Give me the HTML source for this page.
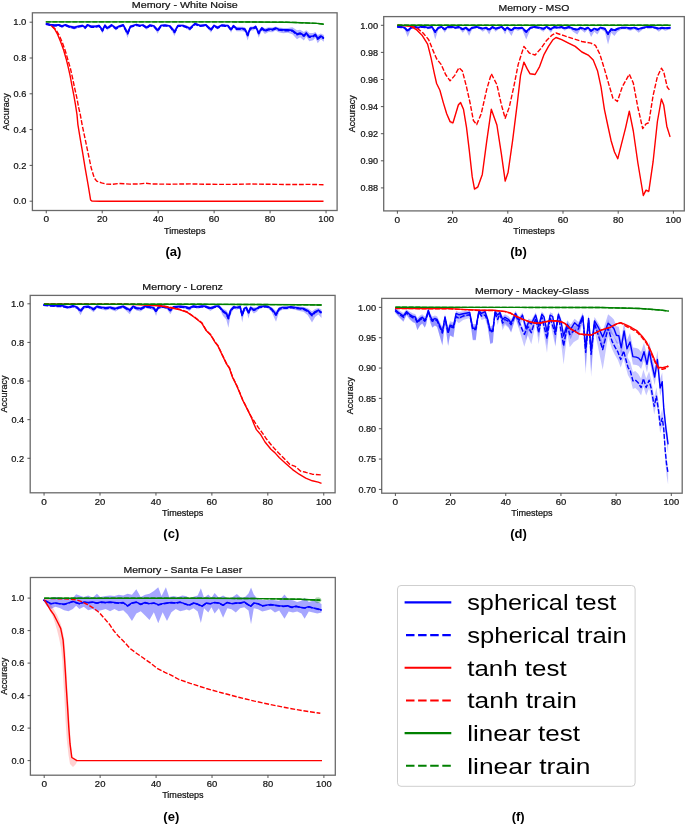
<!DOCTYPE html>
<html><head><meta charset="utf-8"><style>
html,body{margin:0;padding:0;background:#fff;}
body{width:685px;height:824px;overflow:hidden;}
svg{display:block;font-family:"Liberation Sans", sans-serif;will-change:transform;}
text{font-family:"Liberation Sans", sans-serif;}
</style></head><body>
<svg width="685" height="824" viewBox="0 0 685 824">
<rect width="685" height="824" fill="#fff"/>
<defs>
<clipPath id="clipa"><rect x="32.4" y="12.8" width="304.70000000000005" height="197.7"/></clipPath>
<clipPath id="clipb"><rect x="383.7" y="16.6" width="300.59999999999997" height="194.3"/></clipPath>
<clipPath id="clipc"><rect x="30.2" y="295.4" width="304.90000000000003" height="197.40000000000003"/></clipPath>
<clipPath id="clipd"><rect x="381.7" y="298.4" width="300.50000000000006" height="194.8"/></clipPath>
<clipPath id="clipe"><rect x="30.4" y="577.5" width="304.90000000000003" height="197.70000000000005"/></clipPath>
</defs>
<g clip-path="url(#clipa)">
<path d="M45.80,22.80 L50.00,23.80 L54.60,24.35 L59.00,24.12 L61.90,24.95 L65.50,24.12 L69.20,25.25 L74.30,26.00 L79.40,24.95 L82.30,24.57 L85.30,26.00 L87.40,24.12 L91.10,25.25 L95.50,25.25 L99.10,24.57 L102.50,28.18 L105.00,24.35 L107.20,26.53 L111.50,24.12 L115.90,26.53 L119.60,24.95 L123.20,24.12 L127.60,30.35 L130.50,25.25 L133.40,24.57 L136.40,23.80 L140.00,24.57 L143.00,24.20 L146.80,26.07 L150.00,24.20 L154.00,24.95 L157.70,28.18 L161.00,24.57 L165.00,24.20 L170.00,24.95 L174.50,29.30 L178.00,24.57 L183.00,24.57 L186.00,25.32 L189.90,26.75 L195.00,22.80 L200.00,24.57 L206.00,24.12 L211.00,27.65 L214.00,24.57 L217.60,26.00 L222.00,24.20 L225.00,24.50 L228.10,24.73 L231.10,27.65 L233.40,24.73 L236.50,26.82 L239.60,26.82 L242.60,26.82 L244.90,27.20 L247.70,31.70 L250.30,26.45 L253.40,26.45 L255.70,25.32 L258.70,30.20 L261.80,26.45 L264.90,28.32 L268.70,27.20 L272.50,27.43 L275.60,26.45 L278.60,27.43 L283.20,27.88 L287.80,28.06 L292.40,27.26 L297.00,30.33 L300.10,29.78 L303.90,31.90 L306.20,30.18 L309.30,33.00 L313.10,32.88 L315.40,31.90 L317.70,35.05 L320.80,33.38 L323.90,35.08 L323.90,41.78 L320.80,39.24 L317.70,43.23 L315.40,37.70 L313.10,40.14 L309.30,41.31 L306.20,36.60 L303.90,40.49 L300.10,37.31 L297.00,39.13 L292.40,34.30 L287.80,32.86 L283.20,33.18 L278.60,32.31 L275.60,30.43 L272.50,32.31 L268.70,31.88 L264.90,34.05 L261.80,30.43 L258.70,37.68 L255.70,28.25 L253.40,30.43 L250.30,30.43 L247.70,40.58 L244.90,31.88 L242.60,31.16 L239.60,31.16 L236.50,31.16 L233.40,27.09 L231.10,32.75 L228.10,27.09 L225.00,26.66 L222.00,26.08 L217.60,29.56 L214.00,26.80 L211.00,32.75 L206.00,25.93 L200.00,26.80 L195.00,24.40 L189.90,31.01 L186.00,28.25 L183.00,26.80 L178.00,26.80 L174.50,35.94 L170.00,27.53 L165.00,26.08 L161.00,26.80 L157.70,33.77 L154.00,27.53 L150.00,26.08 L146.80,29.70 L143.00,26.08 L140.00,26.80 L136.40,25.40 L133.40,26.80 L130.50,28.11 L127.60,37.97 L123.20,25.93 L119.60,27.53 L115.90,30.58 L111.50,25.93 L107.20,30.58 L105.00,26.37 L102.50,33.77 L99.10,26.80 L95.50,28.11 L91.10,28.11 L87.40,25.93 L85.30,29.56 L82.30,26.80 L79.40,27.53 L74.30,29.56 L69.20,28.11 L65.50,25.93 L61.90,27.53 L59.00,25.93 L54.60,26.37 L50.00,25.40 L45.80,24.40 Z" fill="#0000ff" fill-opacity="0.3" stroke="none"/>
<path d="M45.80,21.90 L150.00,21.90 L230.00,21.90 L286.00,22.20 L301.60,22.70 L317.00,23.40 L323.90,24.20" fill="none" stroke="#008000" stroke-width="1.4" stroke-linejoin="round" stroke-dasharray="4.9,1.75"/>
<path d="M45.80,21.90 L150.00,21.90 L230.00,21.90 L286.00,22.20 L301.60,22.70 L317.00,23.40 L323.90,24.20" fill="none" stroke="#008000" stroke-width="1.4" stroke-linejoin="round"/>
<path d="M46.10,23.30 L50.90,25.30 L54.60,29.00 L57.60,34.40 L60.60,41.70 L63.70,50.20 L66.10,58.70 L68.20,67.20 L70.10,75.70 L71.90,85.40 L73.80,95.20 L75.50,104.90 L77.00,114.60 L77.90,124.60 L80.30,139.20 L82.80,153.70 L85.20,168.30 L88.20,185.30 L90.60,199.90 L91.90,201.10 L100.00,201.20 L323.50,201.20" fill="none" stroke="#ff0000" stroke-width="1.4" stroke-linejoin="round"/>
<path d="M46.10,23.30 L52.10,25.90 L55.80,29.60 L59.40,35.60 L62.50,42.90 L65.50,51.40 L67.90,59.90 L70.40,68.40 L72.60,78.20 L74.60,87.90 L76.80,97.60 L78.60,107.30 L80.30,114.60 L82.10,124.60 L85.20,139.20 L88.20,153.70 L91.30,168.30 L94.30,178.00 L96.70,181.10 L101.60,182.90 L106.40,184.10 L112.50,184.30 L118.60,183.50 L130.00,184.10 L140.00,183.90 L146.00,183.20 L152.00,184.00 L170.00,184.20 L190.00,183.90 L210.00,184.30 L230.00,184.40 L250.00,184.00 L270.00,184.30 L290.00,184.50 L310.00,184.40 L323.50,184.70" fill="none" stroke="#ff0000" stroke-width="1.4" stroke-linejoin="round" stroke-dasharray="4.9,1.75"/>
<path d="M45.80,24.20 L50.00,25.20 L54.60,25.90 L59.00,25.60 L61.90,26.70 L65.50,25.60 L69.20,27.10 L74.30,28.10 L79.40,26.70 L82.30,26.20 L85.30,28.10 L87.40,25.60 L91.10,27.10 L95.50,27.10 L99.10,26.20 L102.50,31.00 L105.00,25.90 L107.20,28.80 L111.50,25.60 L115.90,28.80 L119.60,26.70 L123.20,25.60 L127.60,33.90 L130.50,27.10 L133.40,26.20 L136.40,25.20 L140.00,26.20 L143.00,25.70 L146.80,28.20 L150.00,25.70 L154.00,26.70 L157.70,31.00 L161.00,26.20 L165.00,25.70 L170.00,26.70 L174.50,32.50 L178.00,26.20 L183.00,26.20 L186.00,27.20 L189.90,29.10 L195.00,24.20 L200.00,26.20 L206.00,25.60 L211.00,30.30 L214.00,26.20 L217.60,28.10 L222.00,25.70 L225.00,26.10 L228.10,26.40 L231.10,30.30 L233.40,26.40 L236.50,29.20 L239.60,29.20 L242.60,29.20 L244.90,29.70 L247.70,35.70 L250.30,28.70 L253.40,28.70 L255.70,27.20 L258.70,33.70 L261.80,28.70 L264.90,31.20 L268.70,29.70 L272.50,30.00 L275.60,28.70 L278.60,30.00 L283.20,30.60 L287.80,30.60 L292.40,31.00 L297.00,34.70 L300.10,33.70 L303.90,36.20 L306.20,33.70 L309.30,37.20 L313.10,36.70 L315.40,35.20 L317.70,39.20 L320.80,36.70 L323.90,38.70" fill="none" stroke="#0000ff" stroke-width="1.6" stroke-linejoin="round" stroke-dasharray="4.9,1.75"/>
<path d="M45.80,23.50 L50.00,24.50 L54.60,25.20 L59.00,24.90 L61.90,26.00 L65.50,24.90 L69.20,26.40 L74.30,27.40 L79.40,26.00 L82.30,25.50 L85.30,27.40 L87.40,24.90 L91.10,26.40 L95.50,26.40 L99.10,25.50 L102.50,30.30 L105.00,25.20 L107.20,28.10 L111.50,24.90 L115.90,28.10 L119.60,26.00 L123.20,24.90 L127.60,33.20 L130.50,26.40 L133.40,25.50 L136.40,24.50 L140.00,25.50 L143.00,25.00 L146.80,27.50 L150.00,25.00 L154.00,26.00 L157.70,30.30 L161.00,25.50 L165.00,25.00 L170.00,26.00 L174.50,31.80 L178.00,25.50 L183.00,25.50 L186.00,26.50 L189.90,28.40 L195.00,23.50 L200.00,25.50 L206.00,24.90 L211.00,29.60 L214.00,25.50 L217.60,27.40 L222.00,25.00 L225.00,25.40 L228.10,25.70 L231.10,29.60 L233.40,25.70 L236.50,28.50 L239.60,28.50 L242.60,28.50 L244.90,29.00 L247.70,35.00 L250.30,28.00 L253.40,28.00 L255.70,26.50 L258.70,33.00 L261.80,28.00 L264.90,30.50 L268.70,29.00 L272.50,29.30 L275.60,28.00 L278.60,29.30 L283.20,29.90 L287.80,29.90 L292.40,30.30 L297.00,34.00 L300.10,33.00 L303.90,35.50 L306.20,33.00 L309.30,36.50 L313.10,36.00 L315.40,34.50 L317.70,38.50 L320.80,36.00 L323.90,38.00" fill="none" stroke="#0000ff" stroke-width="1.7" stroke-linejoin="round"/>
</g>
<rect x="32.40" y="12.80" width="304.70" height="197.70" fill="none" stroke="#6a6a6a" stroke-width="1.3"/>
<line x1="46.25" y1="210.50" x2="46.25" y2="213.30" stroke="#444" stroke-width="0.9"/>
<text x="46.25" y="222.20" font-size="9.2" text-anchor="middle" fill="#111" stroke="#111" stroke-width="0.22" textLength="5.60" lengthAdjust="spacingAndGlyphs">0</text>
<line x1="102.21" y1="210.50" x2="102.21" y2="213.30" stroke="#444" stroke-width="0.9"/>
<text x="102.21" y="222.20" font-size="9.2" text-anchor="middle" fill="#111" stroke="#111" stroke-width="0.22" textLength="10.52" lengthAdjust="spacingAndGlyphs">20</text>
<line x1="158.17" y1="210.50" x2="158.17" y2="213.30" stroke="#444" stroke-width="0.9"/>
<text x="158.17" y="222.20" font-size="9.2" text-anchor="middle" fill="#111" stroke="#111" stroke-width="0.22" textLength="10.24" lengthAdjust="spacingAndGlyphs">40</text>
<line x1="214.13" y1="210.50" x2="214.13" y2="213.30" stroke="#444" stroke-width="0.9"/>
<text x="214.13" y="222.20" font-size="9.2" text-anchor="middle" fill="#111" stroke="#111" stroke-width="0.22" textLength="10.52" lengthAdjust="spacingAndGlyphs">60</text>
<line x1="270.09" y1="210.50" x2="270.09" y2="213.30" stroke="#444" stroke-width="0.9"/>
<text x="270.09" y="222.20" font-size="9.2" text-anchor="middle" fill="#111" stroke="#111" stroke-width="0.22" textLength="10.44" lengthAdjust="spacingAndGlyphs">80</text>
<line x1="326.05" y1="210.50" x2="326.05" y2="213.30" stroke="#444" stroke-width="0.9"/>
<text x="326.05" y="222.20" font-size="9.2" text-anchor="middle" fill="#111" stroke="#111" stroke-width="0.22" textLength="15.56" lengthAdjust="spacingAndGlyphs">100</text>
<line x1="29.60" y1="201.20" x2="32.40" y2="201.20" stroke="#444" stroke-width="0.9"/>
<text x="26.30" y="204.49" font-size="9.2" text-anchor="end" fill="#111" stroke="#111" stroke-width="0.22" textLength="12.78" lengthAdjust="spacingAndGlyphs">0.0</text>
<line x1="29.60" y1="165.40" x2="32.40" y2="165.40" stroke="#444" stroke-width="0.9"/>
<text x="26.30" y="168.69" font-size="9.2" text-anchor="end" fill="#111" stroke="#111" stroke-width="0.22" textLength="12.87" lengthAdjust="spacingAndGlyphs">0.2</text>
<line x1="29.60" y1="129.60" x2="32.40" y2="129.60" stroke="#444" stroke-width="0.9"/>
<text x="26.30" y="132.89" font-size="9.2" text-anchor="end" fill="#111" stroke="#111" stroke-width="0.22" textLength="12.68" lengthAdjust="spacingAndGlyphs">0.4</text>
<line x1="29.60" y1="93.80" x2="32.40" y2="93.80" stroke="#444" stroke-width="0.9"/>
<text x="26.30" y="97.09" font-size="9.2" text-anchor="end" fill="#111" stroke="#111" stroke-width="0.22" textLength="12.83" lengthAdjust="spacingAndGlyphs">0.6</text>
<line x1="29.60" y1="58.00" x2="32.40" y2="58.00" stroke="#444" stroke-width="0.9"/>
<text x="26.30" y="61.29" font-size="9.2" text-anchor="end" fill="#111" stroke="#111" stroke-width="0.22" textLength="12.83" lengthAdjust="spacingAndGlyphs">0.8</text>
<line x1="29.60" y1="22.20" x2="32.40" y2="22.20" stroke="#444" stroke-width="0.9"/>
<text x="26.30" y="25.49" font-size="9.2" text-anchor="end" fill="#111" stroke="#111" stroke-width="0.22" textLength="13.15" lengthAdjust="spacingAndGlyphs">1.0</text>
<text x="184.75" y="7.70" font-size="9.9" text-anchor="middle" fill="#111" stroke="#111" stroke-width="0.22" textLength="105.89" lengthAdjust="spacingAndGlyphs">Memory - White Noise</text>
<text x="184.75" y="233.50" font-size="9.0" text-anchor="middle" fill="#111" stroke="#111" stroke-width="0.22" textLength="41.41" lengthAdjust="spacingAndGlyphs">Timesteps</text>
<text x="9.30" y="111.65" font-size="9.0" text-anchor="middle" fill="#111" stroke="#111" stroke-width="0.22" textLength="37.02" lengthAdjust="spacingAndGlyphs" transform="rotate(-90 9.30 111.65)">Accuracy</text>
<text x="173.40" y="256.30" font-size="13.0" text-anchor="middle" fill="#000" font-weight="bold">(a)</text>
<g clip-path="url(#clipb)">
<path d="M397.12,25.94 L401.35,26.36 L404.53,26.87 L407.70,29.41 L410.88,26.87 L415.11,26.36 L418.28,26.87 L421.46,25.94 L424.64,26.36 L427.81,26.87 L432.04,26.36 L435.22,30.25 L438.39,26.87 L441.57,26.36 L444.74,28.05 L447.92,26.36 L452.15,26.36 L455.33,26.87 L458.50,26.36 L462.74,28.05 L465.91,26.87 L469.09,29.07 L472.26,26.87 L476.50,26.36 L479.67,26.87 L482.85,27.72 L486.02,26.87 L489.20,28.56 L492.37,26.36 L495.55,27.72 L498.72,26.87 L501.90,26.36 L505.07,28.56 L507.19,26.87 L511.42,29.07 L514.60,26.87 L517.77,27.38 L522.01,26.87 L526.24,30.25 L530.47,26.87 L534.71,26.36 L539.23,26.87 L543.47,27.72 L546.64,26.36 L550.88,28.05 L554.05,26.36 L558.28,26.87 L561.46,26.36 L564.64,27.38 L568.87,26.36 L573.10,27.72 L577.34,28.56 L580.51,26.87 L584.74,28.05 L587.92,26.87 L591.09,29.41 L594.27,27.72 L597.45,28.56 L600.62,26.87 L604.85,27.72 L608.03,31.94 L611.20,28.05 L614.38,29.07 L617.55,27.72 L621.79,26.87 L626.02,26.87 L630.26,27.38 L634.49,26.87 L638.72,28.05 L642.96,26.87 L647.19,26.36 L651.42,26.36 L655.66,26.87 L658.83,27.72 L662.01,26.87 L665.18,27.38 L670.47,26.87 L670.47,29.32 L665.18,30.84 L662.01,29.32 L658.83,31.85 L655.66,29.32 L651.42,27.86 L647.19,27.86 L642.96,29.32 L638.72,32.87 L634.49,29.32 L630.26,30.84 L626.02,29.32 L621.79,29.32 L617.55,31.85 L614.38,35.90 L611.20,32.87 L608.03,44.51 L604.85,31.85 L600.62,29.32 L597.45,34.38 L594.27,31.85 L591.09,36.91 L587.92,29.32 L584.74,32.87 L580.51,29.32 L577.34,34.38 L573.10,31.85 L568.87,27.86 L564.64,30.84 L561.46,27.86 L558.28,29.32 L554.05,27.86 L550.88,32.87 L546.64,27.86 L543.47,31.85 L539.23,29.32 L534.71,27.86 L530.47,29.32 L526.24,39.45 L522.01,29.32 L517.77,30.84 L514.60,29.32 L511.42,35.90 L507.19,29.32 L505.07,34.38 L501.90,27.86 L498.72,29.32 L495.55,31.85 L492.37,27.86 L489.20,34.38 L486.02,29.32 L482.85,31.85 L479.67,29.32 L476.50,27.86 L472.26,29.32 L469.09,35.90 L465.91,29.32 L462.74,32.87 L458.50,27.86 L455.33,29.32 L452.15,27.86 L447.92,27.86 L444.74,32.87 L441.57,27.86 L438.39,29.32 L435.22,39.45 L432.04,27.86 L427.81,29.32 L424.64,27.86 L421.46,27.44 L418.28,29.32 L415.11,27.86 L410.88,29.32 L407.70,36.91 L404.53,29.32 L401.35,27.86 L397.12,27.44 Z" fill="#0000ff" fill-opacity="0.3" stroke="none"/>
<path d="M397.40,24.80 L404.00,25.00 L410.70,25.60 L416.30,29.00 L422.00,34.60 L427.60,43.60 L431.00,57.10 L434.30,72.80 L436.60,82.90 L439.90,89.60 L443.30,102.00 L446.70,113.20 L450.10,121.00 L453.00,122.20 L455.70,113.20 L458.40,104.20 L460.60,102.00 L463.50,108.70 L466.50,126.70 L469.20,149.10 L472.20,176.10 L474.50,188.40 L477.90,186.20 L482.30,173.80 L486.80,140.10 L491.30,108.70 L496.90,124.40 L501.40,153.60 L505.20,180.50 L508.10,171.60 L512.60,140.10 L517.10,104.20 L520.50,75.00 L523.90,61.50 L527.20,68.30 L530.10,73.20 L535.10,73.90 L539.60,66.00 L544.10,53.70 L548.50,45.80 L553.00,39.10 L556.00,36.90 L561.70,39.10 L568.50,42.50 L575.20,45.80 L581.90,51.40 L588.70,54.80 L593.20,59.30 L597.60,70.50 L601.00,86.20 L604.40,108.70 L607.70,124.40 L611.10,140.10 L614.50,151.40 L617.80,158.10 L621.20,144.60 L625.70,126.70 L629.30,110.60 L633.30,130.40 L637.80,161.90 L643.30,194.90 L646.00,189.50 L648.80,190.70 L653.10,161.10 L657.40,120.90 L661.40,98.40 L663.70,104.30 L666.80,125.60 L670.10,136.30 L670.10,138.50 L666.80,127.80 L663.70,106.50 L661.40,99.60 L657.40,123.10 L653.10,163.30 L648.80,192.90 L646.00,191.70 L643.30,197.10 L637.80,164.10 L633.30,132.60 L629.30,112.80 L625.70,128.90 L621.20,146.80 L617.80,160.30 L614.50,153.60 L611.10,142.30 L607.70,126.60 L604.40,110.90 L601.00,87.40 L597.60,71.70 L593.20,60.50 L588.70,56.00 L581.90,52.60 L575.20,47.00 L568.50,43.70 L561.70,40.30 L556.00,38.10 L553.00,40.30 L548.50,47.00 L544.10,54.90 L539.60,67.20 L535.10,75.10 L530.10,74.40 L527.20,69.50 L523.90,62.70 L520.50,76.20 L517.10,106.40 L512.60,142.30 L508.10,173.80 L505.20,182.70 L501.40,155.80 L496.90,126.60 L491.30,110.90 L486.80,142.30 L482.30,176.00 L477.90,188.40 L474.50,190.60 L472.20,178.30 L469.20,151.30 L466.50,128.90 L463.50,110.90 L460.60,104.20 L458.40,106.40 L455.70,115.40 L453.00,124.40 L450.10,123.20 L446.70,115.40 L443.30,104.20 L439.90,90.80 L436.60,84.10 L434.30,74.00 L431.00,58.30 L427.60,44.80 L422.00,35.80 L416.30,30.20 L410.70,26.80 L404.00,26.20 L397.40,26.00 Z" fill="#ff0000" fill-opacity="0.22" stroke="none"/>
<path d="M397.12,26.94 L401.35,27.36 L404.53,27.99 L407.70,31.16 L410.88,27.99 L415.11,27.36 L418.28,27.99 L421.46,26.94 L424.64,27.36 L427.81,27.99 L432.04,27.36 L435.22,32.21 L438.39,27.99 L441.57,27.36 L444.74,29.47 L447.92,27.36 L452.15,27.36 L455.33,27.99 L458.50,27.36 L462.74,29.47 L465.91,27.99 L469.09,30.73 L472.26,27.99 L476.50,27.36 L479.67,27.99 L482.85,29.05 L486.02,27.99 L489.20,30.10 L492.37,27.36 L495.55,29.05 L498.72,27.99 L501.90,27.36 L505.07,30.10 L507.19,27.99 L511.42,30.73 L514.60,27.99 L517.77,28.62 L522.01,27.99 L526.24,32.21 L530.47,27.99 L534.71,27.36 L539.23,27.99 L543.47,29.05 L546.64,27.36 L550.88,29.47 L554.05,27.36 L558.28,27.99 L561.46,27.36 L564.64,28.62 L568.87,27.36 L573.10,29.05 L577.34,30.10 L580.51,27.99 L584.74,29.47 L587.92,27.99 L591.09,31.16 L594.27,29.05 L597.45,30.10 L600.62,27.99 L604.85,29.05 L608.03,34.32 L611.20,29.47 L614.38,30.73 L617.55,29.05 L621.79,27.99 L626.02,27.99 L630.26,28.62 L634.49,27.99 L638.72,29.47 L642.96,27.99 L647.19,27.36 L651.42,27.36 L655.66,27.99 L658.83,29.05 L662.01,27.99 L665.18,28.62 L670.47,27.99" fill="none" stroke="#0000ff" stroke-width="1.6" stroke-linejoin="round" stroke-dasharray="4.9,1.75"/>
<path d="M397.12,26.44 L401.35,26.86 L404.53,27.49 L407.70,30.66 L410.88,27.49 L415.11,26.86 L418.28,27.49 L421.46,26.44 L424.64,26.86 L427.81,27.49 L432.04,26.86 L435.22,31.71 L438.39,27.49 L441.57,26.86 L444.74,28.97 L447.92,26.86 L452.15,26.86 L455.33,27.49 L458.50,26.86 L462.74,28.97 L465.91,27.49 L469.09,30.23 L472.26,27.49 L476.50,26.86 L479.67,27.49 L482.85,28.55 L486.02,27.49 L489.20,29.60 L492.37,26.86 L495.55,28.55 L498.72,27.49 L501.90,26.86 L505.07,29.60 L507.19,27.49 L511.42,30.23 L514.60,27.49 L517.77,28.12 L522.01,27.49 L526.24,31.71 L530.47,27.49 L534.71,26.86 L539.23,27.49 L543.47,28.55 L546.64,26.86 L550.88,28.97 L554.05,26.86 L558.28,27.49 L561.46,26.86 L564.64,28.12 L568.87,26.86 L573.10,28.55 L577.34,29.60 L580.51,27.49 L584.74,28.97 L587.92,27.49 L591.09,30.66 L594.27,28.55 L597.45,29.60 L600.62,27.49 L604.85,28.55 L608.03,33.82 L611.20,28.97 L614.38,30.23 L617.55,28.55 L621.79,27.49 L626.02,27.49 L630.26,28.12 L634.49,27.49 L638.72,28.97 L642.96,27.49 L647.19,26.86 L651.42,26.86 L655.66,27.49 L658.83,28.55 L662.01,27.49 L665.18,28.12 L670.47,27.49" fill="none" stroke="#0000ff" stroke-width="1.7" stroke-linejoin="round"/>
<path d="M397.40,25.40 L404.00,25.60 L410.70,26.20 L416.30,29.60 L422.00,35.20 L427.60,44.20 L431.00,57.70 L434.30,73.40 L436.60,83.50 L439.90,90.20 L443.30,102.60 L446.70,113.80 L450.10,121.60 L453.00,122.80 L455.70,113.80 L458.40,104.80 L460.60,102.60 L463.50,109.30 L466.50,127.30 L469.20,149.70 L472.20,176.70 L474.50,189.00 L477.90,186.80 L482.30,174.40 L486.80,140.70 L491.30,109.30 L496.90,125.00 L501.40,154.20 L505.20,181.10 L508.10,172.20 L512.60,140.70 L517.10,104.80 L520.50,75.60 L523.90,62.10 L527.20,68.90 L530.10,73.80 L535.10,74.50 L539.60,66.60 L544.10,54.30 L548.50,46.40 L553.00,39.70 L556.00,37.50 L561.70,39.70 L568.50,43.10 L575.20,46.40 L581.90,52.00 L588.70,55.40 L593.20,59.90 L597.60,71.10 L601.00,86.80 L604.40,109.30 L607.70,125.00 L611.10,140.70 L614.50,152.00 L617.80,158.70 L621.20,145.20 L625.70,127.30 L629.30,111.20 L633.30,131.00 L637.80,162.50 L643.30,195.50 L646.00,190.10 L648.80,191.30 L653.10,161.70 L657.40,121.50 L661.40,99.00 L663.70,104.90 L666.80,126.20 L670.10,136.90" fill="none" stroke="#ff0000" stroke-width="1.4" stroke-linejoin="round"/>
<path d="M397.40,25.30 L404.00,25.40 L410.70,25.80 L417.50,28.50 L423.10,33.00 L428.70,39.70 L433.20,50.90 L436.60,58.80 L441.10,64.40 L445.60,74.50 L450.10,80.80 L454.60,75.60 L459.00,67.80 L462.40,71.10 L466.50,86.80 L470.20,103.50 L473.40,120.50 L476.70,124.60 L481.20,113.80 L486.80,89.10 L491.30,73.80 L496.90,84.60 L501.40,104.80 L505.20,118.30 L509.30,107.10 L513.80,86.80 L518.20,64.40 L523.90,46.40 L529.50,53.20 L535.10,55.00 L540.70,48.70 L546.30,40.80 L551.90,35.20 L556.00,33.00 L564.00,35.70 L573.00,38.60 L581.90,41.50 L590.90,43.10 L595.40,45.30 L599.90,54.30 L604.40,68.90 L608.90,84.60 L612.90,98.10 L617.40,101.40 L622.30,86.80 L629.30,74.20 L633.30,83.00 L637.80,107.00 L642.70,128.60 L646.00,123.90 L648.80,122.70 L653.10,95.50 L657.40,76.50 L661.40,68.20 L663.70,71.80 L667.30,87.20 L670.10,90.70" fill="none" stroke="#ff0000" stroke-width="1.4" stroke-linejoin="round" stroke-dasharray="4.9,1.75"/>
<path d="M397.40,25.20 L670.50,25.20" fill="none" stroke="#008000" stroke-width="1.4" stroke-linejoin="round" stroke-dasharray="4.9,1.75"/>
<path d="M397.40,25.20 L670.50,25.20" fill="none" stroke="#008000" stroke-width="1.4" stroke-linejoin="round"/>
</g>
<rect x="383.70" y="16.60" width="300.60" height="194.30" fill="none" stroke="#6a6a6a" stroke-width="1.3"/>
<line x1="397.40" y1="210.90" x2="397.40" y2="213.70" stroke="#444" stroke-width="0.9"/>
<text x="397.40" y="222.60" font-size="9.2" text-anchor="middle" fill="#111" stroke="#111" stroke-width="0.22" textLength="5.60" lengthAdjust="spacingAndGlyphs">0</text>
<line x1="452.60" y1="210.90" x2="452.60" y2="213.70" stroke="#444" stroke-width="0.9"/>
<text x="452.60" y="222.60" font-size="9.2" text-anchor="middle" fill="#111" stroke="#111" stroke-width="0.22" textLength="10.52" lengthAdjust="spacingAndGlyphs">20</text>
<line x1="507.80" y1="210.90" x2="507.80" y2="213.70" stroke="#444" stroke-width="0.9"/>
<text x="507.80" y="222.60" font-size="9.2" text-anchor="middle" fill="#111" stroke="#111" stroke-width="0.22" textLength="10.24" lengthAdjust="spacingAndGlyphs">40</text>
<line x1="563.00" y1="210.90" x2="563.00" y2="213.70" stroke="#444" stroke-width="0.9"/>
<text x="563.00" y="222.60" font-size="9.2" text-anchor="middle" fill="#111" stroke="#111" stroke-width="0.22" textLength="10.52" lengthAdjust="spacingAndGlyphs">60</text>
<line x1="618.20" y1="210.90" x2="618.20" y2="213.70" stroke="#444" stroke-width="0.9"/>
<text x="618.20" y="222.60" font-size="9.2" text-anchor="middle" fill="#111" stroke="#111" stroke-width="0.22" textLength="10.44" lengthAdjust="spacingAndGlyphs">80</text>
<line x1="673.40" y1="210.90" x2="673.40" y2="213.70" stroke="#444" stroke-width="0.9"/>
<text x="673.40" y="222.60" font-size="9.2" text-anchor="middle" fill="#111" stroke="#111" stroke-width="0.22" textLength="15.56" lengthAdjust="spacingAndGlyphs">100</text>
<line x1="380.90" y1="187.90" x2="383.70" y2="187.90" stroke="#444" stroke-width="0.9"/>
<text x="378.10" y="191.19" font-size="9.2" text-anchor="end" fill="#111" stroke="#111" stroke-width="0.22" textLength="17.66" lengthAdjust="spacingAndGlyphs">0.88</text>
<line x1="380.90" y1="160.80" x2="383.70" y2="160.80" stroke="#444" stroke-width="0.9"/>
<text x="378.10" y="164.09" font-size="9.2" text-anchor="end" fill="#111" stroke="#111" stroke-width="0.22" textLength="17.61" lengthAdjust="spacingAndGlyphs">0.90</text>
<line x1="380.90" y1="133.70" x2="383.70" y2="133.70" stroke="#444" stroke-width="0.9"/>
<text x="378.10" y="136.99" font-size="9.2" text-anchor="end" fill="#111" stroke="#111" stroke-width="0.22" textLength="17.71" lengthAdjust="spacingAndGlyphs">0.92</text>
<line x1="380.90" y1="106.60" x2="383.70" y2="106.60" stroke="#444" stroke-width="0.9"/>
<text x="378.10" y="109.89" font-size="9.2" text-anchor="end" fill="#111" stroke="#111" stroke-width="0.22" textLength="17.52" lengthAdjust="spacingAndGlyphs">0.94</text>
<line x1="380.90" y1="79.50" x2="383.70" y2="79.50" stroke="#444" stroke-width="0.9"/>
<text x="378.10" y="82.79" font-size="9.2" text-anchor="end" fill="#111" stroke="#111" stroke-width="0.22" textLength="17.66" lengthAdjust="spacingAndGlyphs">0.96</text>
<line x1="380.90" y1="52.40" x2="383.70" y2="52.40" stroke="#444" stroke-width="0.9"/>
<text x="378.10" y="55.69" font-size="9.2" text-anchor="end" fill="#111" stroke="#111" stroke-width="0.22" textLength="17.66" lengthAdjust="spacingAndGlyphs">0.98</text>
<line x1="380.90" y1="25.30" x2="383.70" y2="25.30" stroke="#444" stroke-width="0.9"/>
<text x="378.10" y="28.59" font-size="9.2" text-anchor="end" fill="#111" stroke="#111" stroke-width="0.22" textLength="17.97" lengthAdjust="spacingAndGlyphs">1.00</text>
<text x="534.00" y="10.80" font-size="9.9" text-anchor="middle" fill="#111" stroke="#111" stroke-width="0.22" textLength="70.80" lengthAdjust="spacingAndGlyphs">Memory - MSO</text>
<text x="534.00" y="233.90" font-size="9.0" text-anchor="middle" fill="#111" stroke="#111" stroke-width="0.22" textLength="41.41" lengthAdjust="spacingAndGlyphs">Timesteps</text>
<text x="355.40" y="113.75" font-size="9.0" text-anchor="middle" fill="#111" stroke="#111" stroke-width="0.22" textLength="37.02" lengthAdjust="spacingAndGlyphs" transform="rotate(-90 355.40 113.75)">Accuracy</text>
<text x="518.50" y="256.10" font-size="13.0" text-anchor="middle" fill="#000" font-weight="bold">(b)</text>
<g clip-path="url(#clipc)">
<path d="M43.28,303.69 L48.76,304.12 L55.33,304.78 L61.90,304.78 L68.47,305.95 L72.85,304.78 L77.23,305.95 L80.51,308.41 L83.80,305.65 L88.18,305.34 L93.65,307.18 L96.93,305.34 L101.31,305.95 L105.69,306.41 L110.07,305.95 L115.55,306.88 L118.83,305.95 L123.21,305.34 L129.78,307.95 L133.07,305.34 L136.35,306.41 L140.73,306.88 L145.11,305.34 L149.49,305.65 L153.87,306.41 L156.06,308.72 L158.25,305.95 L162.63,305.34 L167.01,305.95 L170.29,307.95 L173.58,305.65 L180.15,305.34 L185.62,305.65 L189.23,306.59 L193.47,305.11 L197.70,305.70 L201.93,305.11 L206.17,305.41 L210.40,306.59 L214.64,305.41 L218.87,305.11 L223.10,308.65 L226.28,310.13 L228.39,313.53 L230.51,308.36 L233.69,305.70 L236.86,306.14 L240.04,305.41 L242.15,311.31 L244.27,306.88 L246.39,306.14 L248.50,309.84 L250.62,306.14 L253.80,307.62 L256.97,306.88 L259.09,305.70 L262.26,305.41 L265.44,305.11 L268.61,305.70 L271.79,307.18 L276.02,311.02 L279.20,306.88 L282.37,306.14 L286.61,306.14 L290.84,305.70 L295.07,306.14 L299.31,306.59 L303.54,306.88 L307.77,308.36 L312.01,311.31 L315.18,309.10 L318.36,308.06 L321.53,309.54 L321.53,318.08 L318.36,314.50 L315.18,317.01 L312.01,322.39 L307.77,315.22 L303.54,311.63 L299.31,310.91 L295.07,309.84 L290.84,308.76 L286.61,309.84 L282.37,309.84 L279.20,311.63 L276.02,321.67 L271.79,312.35 L268.61,308.76 L265.44,307.33 L262.26,308.04 L259.09,308.76 L256.97,311.63 L253.80,313.42 L250.62,309.84 L248.50,318.80 L246.39,309.84 L244.27,311.63 L242.15,322.39 L240.04,308.04 L236.86,309.84 L233.69,308.76 L230.51,315.22 L228.39,327.77 L226.28,319.52 L223.10,315.93 L218.87,307.33 L214.64,308.04 L210.40,310.91 L206.17,308.04 L201.93,307.33 L197.70,308.76 L193.47,307.33 L189.23,310.91 L185.62,308.63 L180.15,307.88 L173.58,308.63 L170.29,314.22 L167.01,309.37 L162.63,307.88 L158.25,309.37 L156.06,316.09 L153.87,310.49 L149.49,308.63 L145.11,307.88 L140.73,311.61 L136.35,310.49 L133.07,307.88 L129.78,314.22 L123.21,307.88 L118.83,309.37 L115.55,311.61 L110.07,309.37 L105.69,310.49 L101.31,309.37 L96.93,307.88 L93.65,312.36 L88.18,307.88 L83.80,308.63 L80.51,315.34 L77.23,309.37 L72.85,306.98 L68.47,309.37 L61.90,306.98 L55.33,306.98 L48.76,306.32 L43.28,305.89 Z" fill="#0000ff" fill-opacity="0.3" stroke="none"/>
<path d="M43.28,305.29 L48.76,305.72 L55.33,306.38 L61.90,306.38 L68.47,307.92 L72.85,306.38 L77.23,307.92 L80.51,311.43 L83.80,307.48 L88.18,307.04 L93.65,309.68 L96.93,307.04 L101.31,307.92 L105.69,308.58 L110.07,307.92 L115.55,309.24 L118.83,307.92 L123.21,307.04 L129.78,310.77 L133.07,307.04 L136.35,308.58 L140.73,309.24 L145.11,307.04 L149.49,307.48 L153.87,308.58 L156.06,311.87 L158.25,307.92 L162.63,307.04 L167.01,307.92 L170.29,310.77 L173.58,307.48 L180.15,307.04 L185.62,307.48 L189.23,308.82 L193.47,306.72 L197.70,307.56 L201.93,306.72 L206.17,307.14 L210.40,308.82 L214.64,307.14 L218.87,306.72 L223.10,311.78 L226.28,313.89 L228.39,318.74 L230.51,311.36 L233.69,307.56 L236.86,308.19 L240.04,307.14 L242.15,315.57 L244.27,309.25 L246.39,308.19 L248.50,313.47 L250.62,308.19 L253.80,310.30 L256.97,309.25 L259.09,307.56 L262.26,307.14 L265.44,306.72 L268.61,307.56 L271.79,309.67 L276.02,315.15 L279.20,309.25 L282.37,308.19 L286.61,308.19 L290.84,307.56 L295.07,308.19 L299.31,308.82 L303.54,309.25 L307.77,311.36 L312.01,315.57 L315.18,312.41 L318.36,310.93 L321.53,313.04" fill="none" stroke="#0000ff" stroke-width="1.6" stroke-linejoin="round" stroke-dasharray="4.9,1.75"/>
<path d="M43.28,304.59 L48.76,305.02 L55.33,305.68 L61.90,305.68 L68.47,307.22 L72.85,305.68 L77.23,307.22 L80.51,310.73 L83.80,306.78 L88.18,306.34 L93.65,308.98 L96.93,306.34 L101.31,307.22 L105.69,307.88 L110.07,307.22 L115.55,308.54 L118.83,307.22 L123.21,306.34 L129.78,310.07 L133.07,306.34 L136.35,307.88 L140.73,308.54 L145.11,306.34 L149.49,306.78 L153.87,307.88 L156.06,311.17 L158.25,307.22 L162.63,306.34 L167.01,307.22 L170.29,310.07 L173.58,306.78 L180.15,306.34 L185.62,306.78 L189.23,308.12 L193.47,306.02 L197.70,306.86 L201.93,306.02 L206.17,306.44 L210.40,308.12 L214.64,306.44 L218.87,306.02 L223.10,311.08 L226.28,313.19 L228.39,318.04 L230.51,310.66 L233.69,306.86 L236.86,307.49 L240.04,306.44 L242.15,314.88 L244.27,308.55 L246.39,307.49 L248.50,312.77 L250.62,307.49 L253.80,309.60 L256.97,308.55 L259.09,306.86 L262.26,306.44 L265.44,306.02 L268.61,306.86 L271.79,308.97 L276.02,314.45 L279.20,308.55 L282.37,307.49 L286.61,307.49 L290.84,306.86 L295.07,307.49 L299.31,308.12 L303.54,308.55 L307.77,310.66 L312.01,314.88 L315.18,311.71 L318.36,310.23 L321.53,312.34" fill="none" stroke="#0000ff" stroke-width="1.7" stroke-linejoin="round"/>
<path d="M44.00,304.30 L80.00,304.30 L120.00,304.40 L135.00,304.60 L150.90,305.30 L162.60,306.20 L174.20,308.50 L180.00,309.80 L187.30,312.40 L194.60,317.50 L201.90,323.30 L206.20,330.60 L210.60,335.00 L215.00,342.20 L217.90,345.90 L222.30,355.30 L226.60,364.10 L229.50,368.40 L232.50,377.20 L236.80,385.90 L240.00,393.50 L242.60,400.00 L246.60,407.90 L251.20,417.10 L253.80,423.70 L256.40,429.60 L260.40,434.20 L265.00,442.00 L270.90,449.30 L274.80,452.60 L279.40,457.80 L286.00,463.70 L292.60,469.60 L299.10,474.20 L305.70,478.20 L312.30,480.80 L318.20,482.10 L321.50,483.40" fill="none" stroke="#ff0000" stroke-width="1.4" stroke-linejoin="round"/>
<path d="M44.00,303.90 L80.00,303.90 L120.00,304.00 L135.00,304.20 L150.90,304.90 L162.60,305.80 L174.20,308.10 L180.00,309.40 L187.30,312.00 L194.60,317.10 L201.90,322.90 L206.20,330.20 L210.60,334.60 L215.00,341.80 L217.90,345.50 L222.30,354.90 L226.60,363.70 L229.50,368.00 L232.50,376.80 L236.80,385.50 L240.00,393.10 L242.60,399.60 L246.60,407.50 L251.20,416.70 L258.40,427.60 L262.30,432.80 L266.30,438.80 L271.50,445.30 L276.80,451.20 L283.40,457.80 L289.90,464.40 L295.20,466.40 L300.40,471.00 L305.70,472.30 L312.30,474.20 L320.80,474.90" fill="none" stroke="#ff0000" stroke-width="1.4" stroke-linejoin="round" stroke-dasharray="4.9,1.75"/>
<path d="M44.00,304.20 L200.00,304.30 L300.00,304.70 L321.70,305.00" fill="none" stroke="#008000" stroke-width="1.4" stroke-linejoin="round" stroke-dasharray="4.9,1.75"/>
<path d="M44.00,304.20 L200.00,304.30 L300.00,304.70 L321.70,305.00" fill="none" stroke="#008000" stroke-width="1.4" stroke-linejoin="round"/>
</g>
<rect x="30.20" y="295.40" width="304.90" height="197.40" fill="none" stroke="#6a6a6a" stroke-width="1.3"/>
<line x1="44.06" y1="492.80" x2="44.06" y2="495.60" stroke="#444" stroke-width="0.9"/>
<text x="44.06" y="504.50" font-size="9.2" text-anchor="middle" fill="#111" stroke="#111" stroke-width="0.22" textLength="5.60" lengthAdjust="spacingAndGlyphs">0</text>
<line x1="100.00" y1="492.80" x2="100.00" y2="495.60" stroke="#444" stroke-width="0.9"/>
<text x="100.00" y="504.50" font-size="9.2" text-anchor="middle" fill="#111" stroke="#111" stroke-width="0.22" textLength="10.52" lengthAdjust="spacingAndGlyphs">20</text>
<line x1="155.94" y1="492.80" x2="155.94" y2="495.60" stroke="#444" stroke-width="0.9"/>
<text x="155.94" y="504.50" font-size="9.2" text-anchor="middle" fill="#111" stroke="#111" stroke-width="0.22" textLength="10.24" lengthAdjust="spacingAndGlyphs">40</text>
<line x1="211.88" y1="492.80" x2="211.88" y2="495.60" stroke="#444" stroke-width="0.9"/>
<text x="211.88" y="504.50" font-size="9.2" text-anchor="middle" fill="#111" stroke="#111" stroke-width="0.22" textLength="10.52" lengthAdjust="spacingAndGlyphs">60</text>
<line x1="267.82" y1="492.80" x2="267.82" y2="495.60" stroke="#444" stroke-width="0.9"/>
<text x="267.82" y="504.50" font-size="9.2" text-anchor="middle" fill="#111" stroke="#111" stroke-width="0.22" textLength="10.44" lengthAdjust="spacingAndGlyphs">80</text>
<line x1="323.76" y1="492.80" x2="323.76" y2="495.60" stroke="#444" stroke-width="0.9"/>
<text x="323.76" y="504.50" font-size="9.2" text-anchor="middle" fill="#111" stroke="#111" stroke-width="0.22" textLength="15.56" lengthAdjust="spacingAndGlyphs">100</text>
<line x1="27.40" y1="458.28" x2="30.20" y2="458.28" stroke="#444" stroke-width="0.9"/>
<text x="24.10" y="461.57" font-size="9.2" text-anchor="end" fill="#111" stroke="#111" stroke-width="0.22" textLength="12.87" lengthAdjust="spacingAndGlyphs">0.2</text>
<line x1="27.40" y1="419.66" x2="30.20" y2="419.66" stroke="#444" stroke-width="0.9"/>
<text x="24.10" y="422.95" font-size="9.2" text-anchor="end" fill="#111" stroke="#111" stroke-width="0.22" textLength="12.68" lengthAdjust="spacingAndGlyphs">0.4</text>
<line x1="27.40" y1="381.04" x2="30.20" y2="381.04" stroke="#444" stroke-width="0.9"/>
<text x="24.10" y="384.33" font-size="9.2" text-anchor="end" fill="#111" stroke="#111" stroke-width="0.22" textLength="12.83" lengthAdjust="spacingAndGlyphs">0.6</text>
<line x1="27.40" y1="342.42" x2="30.20" y2="342.42" stroke="#444" stroke-width="0.9"/>
<text x="24.10" y="345.71" font-size="9.2" text-anchor="end" fill="#111" stroke="#111" stroke-width="0.22" textLength="12.83" lengthAdjust="spacingAndGlyphs">0.8</text>
<line x1="27.40" y1="303.80" x2="30.20" y2="303.80" stroke="#444" stroke-width="0.9"/>
<text x="24.10" y="307.09" font-size="9.2" text-anchor="end" fill="#111" stroke="#111" stroke-width="0.22" textLength="13.15" lengthAdjust="spacingAndGlyphs">1.0</text>
<text x="182.65" y="289.80" font-size="9.9" text-anchor="middle" fill="#111" stroke="#111" stroke-width="0.22" textLength="80.59" lengthAdjust="spacingAndGlyphs">Memory - Lorenz</text>
<text x="182.65" y="515.80" font-size="9.0" text-anchor="middle" fill="#111" stroke="#111" stroke-width="0.22" textLength="41.41" lengthAdjust="spacingAndGlyphs">Timesteps</text>
<text x="7.10" y="394.10" font-size="9.0" text-anchor="middle" fill="#111" stroke="#111" stroke-width="0.22" textLength="37.02" lengthAdjust="spacingAndGlyphs" transform="rotate(-90 7.10 394.10)">Accuracy</text>
<text x="171.30" y="538.20" font-size="13.0" text-anchor="middle" fill="#000" font-weight="bold">(c)</text>
<g clip-path="url(#clipd)">
<path d="M395.10,307.10 L399.00,310.37 L403.40,313.10 L406.50,309.23 L409.50,311.60 L413.00,313.54 L415.20,313.89 L417.40,318.12 L420.00,315.39 L422.20,314.24 L424.80,316.62 L426.20,314.68 L428.30,308.00 L430.50,313.89 L432.30,316.62 L434.90,315.39 L437.10,316.18 L439.70,321.55 L442.40,327.00 L445.00,313.89 L448.10,327.36 L450.00,321.20 L453.50,322.34 L456.10,310.81 L458.80,311.96 L463.10,311.16 L469.70,310.02 L472.80,323.92 L475.80,323.92 L478.90,308.50 L481.50,310.81 L485.00,309.23 L487.70,316.18 L490.30,326.21 L492.90,325.42 L495.10,309.23 L497.70,312.31 L499.90,310.02 L502.60,316.18 L505.00,314.24 L508.50,316.18 L511.10,319.26 L515.50,310.81 L519.00,316.97 L522.50,312.31 L526.00,323.92 L528.60,318.56 L531.30,320.05 L535.70,312.31 L538.70,322.34 L541.80,311.60 L544.00,313.89 L547.00,327.00 L550.10,312.31 L552.70,313.54 L555.40,327.00 L558.40,311.60 L561.10,318.10 L563.60,330.70 L567.30,320.17 L570.70,324.49 L574.60,318.82 L578.40,321.88 L582.80,312.50 L585.70,341.95 L588.60,314.86 L591.10,343.75 L594.50,317.11 L598.80,323.68 L602.70,331.51 L608.10,314.30 L612.00,317.50 L613.90,319.40 L616.40,326.20 L618.80,326.70 L621.20,338.90 L624.10,321.90 L627.00,339.80 L630.00,333.00 L632.90,347.60 L636.30,348.10 L638.70,349.10 L641.10,352.00 L644.00,342.70 L647.00,355.40 L649.40,341.80 L651.30,352.50 L654.70,368.00 L657.40,350.50 L660.10,379.00 L662.20,372.60 L663.70,398.90 L665.90,421.30 L668.10,437.30 L668.10,453.30 L665.90,437.30 L663.70,415.90 L662.20,389.60 L660.10,396.00 L657.40,367.50 L654.70,385.00 L651.30,369.50 L649.40,358.80 L647.00,372.40 L644.00,359.70 L641.10,369.00 L638.70,366.10 L636.30,365.10 L632.90,364.60 L630.00,350.00 L627.00,356.80 L624.10,338.90 L621.20,355.90 L618.80,343.70 L616.40,343.20 L613.90,336.40 L612.00,334.50 L608.10,331.30 L602.70,350.85 L598.80,337.80 L594.50,326.85 L591.10,371.25 L588.60,323.10 L585.70,368.25 L582.80,320.50 L578.40,334.80 L574.60,329.70 L570.70,339.15 L567.30,331.95 L563.60,349.50 L561.10,328.50 L558.40,318.62 L555.40,345.74 L552.70,322.02 L550.10,319.86 L547.00,345.74 L544.00,322.64 L541.80,318.62 L538.70,337.52 L535.70,319.86 L531.30,333.49 L528.60,330.86 L526.00,340.31 L522.50,319.86 L519.00,328.07 L515.50,317.22 L511.10,332.10 L508.50,326.68 L505.00,323.27 L502.60,326.68 L499.90,315.82 L497.70,319.86 L495.10,314.43 L492.90,342.95 L490.30,344.34 L487.70,326.68 L485.00,314.43 L481.50,317.22 L478.90,313.30 L475.80,340.31 L472.80,340.31 L469.70,315.82 L463.10,317.84 L458.80,319.23 L456.10,317.22 L453.50,337.52 L450.00,335.51 L448.10,346.36 L445.00,322.64 L442.40,345.74 L439.70,336.13 L437.10,326.68 L434.90,325.28 L432.30,327.45 L430.50,322.64 L428.30,312.80 L426.20,324.04 L424.80,327.45 L422.20,323.27 L420.00,325.28 L417.40,330.08 L415.20,322.64 L413.00,322.02 L409.50,318.62 L406.50,314.43 L403.40,321.25 L399.00,316.44 L395.10,311.90 Z" fill="#0000ff" fill-opacity="0.25" stroke="none"/>
<path d="M395.10,308.70 L399.00,311.98 L403.40,314.77 L406.50,310.81 L409.50,313.24 L413.00,315.22 L415.20,315.58 L417.40,319.90 L420.00,317.11 L422.20,315.94 L424.80,318.37 L426.20,316.39 L428.30,309.60 L430.50,315.58 L432.30,318.37 L434.90,317.11 L437.10,317.92 L439.70,323.41 L442.40,328.99 L445.00,315.58 L448.10,329.35 L450.00,323.05 L453.50,324.22 L456.10,314.05 L458.80,315.58 L463.10,313.60 L469.70,312.43 L472.80,325.84 L475.80,325.84 L478.90,310.09 L481.50,313.60 L485.00,312.79 L487.70,317.92 L490.30,328.18 L492.90,327.37 L495.10,310.81 L497.70,316.75 L499.90,311.62 L502.60,319.90 L505.00,316.75 L508.50,318.37 L511.10,321.52 L515.50,312.79 L519.00,319.18 L524.30,330.16 L527.80,323.05 L531.30,328.63 L535.70,315.94 L538.70,328.63 L541.80,314.41 L547.00,334.12 L550.10,315.22 L555.40,330.16 L558.40,313.60 L563.60,339.70 L567.30,320.98 L569.70,329.35 L573.60,326.29 L578.40,324.49 L582.80,314.00 L585.70,345.46 L588.60,316.66 L591.10,347.26 L594.50,319.27 L598.80,331.51 L602.70,342.85 L608.10,319.20 L612.00,332.10 L614.90,337.90 L617.80,342.70 L620.70,350.50 L623.70,341.80 L625.60,349.50 L628.00,358.30 L630.40,362.20 L632.90,371.90 L635.30,370.90 L638.20,373.80 L641.10,378.60 L643.40,369.50 L646.20,378.50 L649.10,371.20 L651.30,379.90 L654.20,397.40 L656.40,387.20 L658.60,401.80 L660.10,416.30 L662.20,409.10 L663.70,419.30 L665.20,443.10 L666.60,457.70 L668.10,466.40 L668.10,484.40 L666.60,475.70 L665.20,461.10 L663.70,436.30 L662.20,426.10 L660.10,433.30 L658.60,418.80 L656.40,404.20 L654.20,414.40 L651.30,396.90 L649.10,388.20 L646.20,395.50 L643.40,386.50 L641.10,395.60 L638.20,390.80 L635.30,387.90 L632.90,388.90 L630.40,379.20 L628.00,375.30 L625.60,366.50 L623.70,358.80 L620.70,367.50 L617.80,359.70 L614.90,354.90 L612.00,349.10 L608.10,336.20 L602.70,369.75 L598.80,350.85 L594.50,330.45 L591.10,377.10 L588.60,326.10 L585.70,374.10 L582.80,322.00 L578.40,339.15 L573.60,342.15 L569.70,347.25 L567.30,333.30 L563.60,364.50 L558.40,320.00 L555.40,346.68 L550.10,322.61 L547.00,353.06 L541.80,321.30 L538.70,344.21 L535.70,323.77 L531.30,344.21 L527.80,335.23 L524.30,346.68 L519.00,328.99 L515.50,318.70 L511.10,332.76 L508.50,327.69 L505.00,325.07 L502.60,330.15 L499.90,316.81 L497.70,325.07 L495.10,315.51 L492.90,342.19 L490.30,343.49 L487.70,326.96 L485.00,318.70 L481.50,320.00 L478.90,314.35 L475.80,339.72 L472.80,339.72 L469.70,318.12 L463.10,320.00 L458.80,323.19 L456.10,320.73 L453.50,337.11 L450.00,335.23 L448.10,345.38 L445.00,323.19 L442.40,344.80 L439.70,335.81 L437.10,326.96 L434.90,325.66 L432.30,327.69 L430.50,323.19 L428.30,313.80 L426.20,324.50 L424.80,327.69 L422.20,323.77 L420.00,325.66 L417.40,330.15 L415.20,323.19 L413.00,322.61 L409.50,319.42 L406.50,315.51 L403.40,321.88 L399.00,317.39 L395.10,312.90 Z" fill="#0000ff" fill-opacity="0.22" stroke="none"/>
<path d="M395.10,310.70 L399.00,314.20 L403.40,317.30 L406.50,312.90 L409.50,315.60 L413.00,317.80 L415.20,318.20 L417.40,323.00 L420.00,319.90 L422.20,318.60 L424.80,321.30 L426.20,319.10 L428.30,311.60 L430.50,318.20 L432.30,321.30 L434.90,319.90 L437.10,320.80 L439.70,326.90 L442.40,333.10 L445.00,318.20 L448.10,333.50 L450.00,326.50 L453.50,327.80 L456.10,316.50 L458.80,318.20 L463.10,316.00 L469.70,314.70 L472.80,329.60 L475.80,329.60 L478.90,312.10 L481.50,316.00 L485.00,315.10 L487.70,320.80 L490.30,332.20 L492.90,331.30 L495.10,312.90 L497.70,319.50 L499.90,313.80 L502.60,323.00 L505.00,319.50 L508.50,321.30 L511.10,324.80 L515.50,315.10 L519.00,322.20 L524.30,334.40 L527.80,326.50 L531.30,332.70 L535.70,318.60 L538.70,332.70 L541.80,316.90 L547.00,338.80 L550.10,317.80 L555.40,334.40 L558.40,316.00 L563.60,346.00 L567.30,325.20 L569.70,334.50 L573.60,331.10 L578.40,329.10 L582.80,317.50 L585.70,352.40 L588.60,320.40 L591.10,354.40 L594.50,323.30 L598.80,336.90 L602.70,349.50 L608.10,328.20 L612.00,341.10 L614.90,346.90 L617.80,351.70 L620.70,359.50 L623.70,350.80 L625.60,358.50 L628.00,367.30 L630.40,371.20 L632.90,380.90 L635.30,379.90 L638.20,382.80 L641.10,387.60 L643.40,378.50 L646.20,387.50 L649.10,380.20 L651.30,388.90 L654.20,406.40 L656.40,396.20 L658.60,410.80 L660.10,425.30 L662.20,418.10 L663.70,428.30 L665.20,450.10 L666.60,464.70 L668.10,473.40" fill="none" stroke="#0000ff" stroke-width="1.4" stroke-linejoin="round" stroke-dasharray="4.9,1.75"/>
<path d="M395.10,309.40 L399.00,312.90 L403.40,316.00 L406.50,311.60 L409.50,314.30 L413.00,316.50 L415.20,316.90 L417.40,321.70 L420.00,318.60 L422.20,317.30 L424.80,320.00 L426.20,317.80 L428.30,310.30 L430.50,316.90 L432.30,320.00 L434.90,318.60 L437.10,319.50 L439.70,325.60 L442.40,331.80 L445.00,316.90 L448.10,332.20 L450.00,325.20 L453.50,326.50 L456.10,313.40 L458.80,314.70 L463.10,313.80 L469.70,312.50 L472.80,328.30 L475.80,328.30 L478.90,310.80 L481.50,313.40 L485.00,311.60 L487.70,319.50 L490.30,330.90 L492.90,330.00 L495.10,311.60 L497.70,315.10 L499.90,312.50 L502.60,319.50 L505.00,317.30 L508.50,319.50 L511.10,323.00 L515.50,313.40 L519.00,320.40 L522.50,315.10 L526.00,328.30 L528.60,322.20 L531.30,323.90 L535.70,315.10 L538.70,326.50 L541.80,314.30 L544.00,316.90 L547.00,331.80 L550.10,315.10 L552.70,316.50 L555.40,331.80 L558.40,314.30 L561.10,322.00 L563.60,336.00 L567.30,324.30 L570.70,329.10 L574.60,322.80 L578.40,326.20 L582.80,316.00 L585.70,348.50 L588.60,318.40 L591.10,350.50 L594.50,320.90 L598.80,328.20 L602.70,336.90 L608.10,323.30 L612.00,326.50 L613.90,328.40 L616.40,335.20 L618.80,335.70 L621.20,347.90 L624.10,330.90 L627.00,348.80 L630.00,342.00 L632.90,356.60 L636.30,357.10 L638.70,358.10 L641.10,361.00 L644.00,351.70 L647.00,364.40 L649.40,350.80 L651.30,361.50 L654.70,377.00 L657.40,359.50 L660.10,388.00 L662.20,381.60 L663.70,407.90 L665.90,428.30 L668.10,444.30" fill="none" stroke="#0000ff" stroke-width="1.4" stroke-linejoin="round"/>
<path d="M395.10,308.30 L420.00,308.50 L450.00,308.60 L463.10,309.40 L480.70,310.30 L493.80,310.30 L502.60,311.20 L505.00,311.40 L510.30,312.95 L515.50,316.00 L522.50,319.10 L529.50,321.70 L535.70,323.00 L540.00,323.00 L545.30,321.70 L550.50,320.80 L555.80,320.80 L561.10,321.70 L565.00,323.50 L569.70,328.20 L579.40,334.00 L591.10,335.00 L600.80,330.10 L610.50,327.20 L615.90,324.10 L620.70,322.60 L625.60,324.60 L631.40,327.50 L637.20,330.90 L642.10,336.20 L646.50,342.00 L649.90,348.80 L652.80,355.60 L655.70,362.40 L658.60,367.30 L662.50,367.80 L666.40,366.80 L668.30,365.80" fill="none" stroke="#ff0000" stroke-width="1.4" stroke-linejoin="round"/>
<path d="M395.10,308.50 L420.00,308.70 L450.00,308.80 L463.10,309.60 L480.70,310.50 L493.80,310.50 L502.60,311.40 L505.00,311.60 L510.30,313.15 L515.50,316.20 L522.50,319.30 L529.50,321.90 L535.70,323.20 L540.00,323.20 L545.30,321.90 L550.50,321.00 L555.80,321.00 L561.10,321.90 L565.00,323.70 L569.70,328.40 L579.40,334.20 L591.10,335.20 L600.80,330.30 L610.50,327.40 L615.90,324.30 L620.70,322.80 L625.60,326.00 L631.40,328.90 L637.20,332.30 L642.10,337.60 L646.50,343.40 L649.90,350.20 L652.80,357.00 L655.70,363.80 L658.60,368.70 L662.50,369.20 L666.40,368.20 L668.30,366.00" fill="none" stroke="#ff0000" stroke-width="1.4" stroke-linejoin="round" stroke-dasharray="4.9,1.75"/>
<path d="M395.40,307.30 L600.00,307.50 L640.00,308.50 L660.00,310.00 L668.70,311.10" fill="none" stroke="#008000" stroke-width="1.4" stroke-linejoin="round" stroke-dasharray="4.9,1.75"/>
<path d="M395.40,307.30 L600.00,307.50 L640.00,308.50 L660.00,310.00 L668.70,311.10" fill="none" stroke="#008000" stroke-width="1.4" stroke-linejoin="round"/>
</g>
<rect x="381.70" y="298.40" width="300.50" height="194.80" fill="none" stroke="#6a6a6a" stroke-width="1.3"/>
<line x1="395.40" y1="493.20" x2="395.40" y2="496.00" stroke="#444" stroke-width="0.9"/>
<text x="395.40" y="504.90" font-size="9.2" text-anchor="middle" fill="#111" stroke="#111" stroke-width="0.22" textLength="5.60" lengthAdjust="spacingAndGlyphs">0</text>
<line x1="450.58" y1="493.20" x2="450.58" y2="496.00" stroke="#444" stroke-width="0.9"/>
<text x="450.58" y="504.90" font-size="9.2" text-anchor="middle" fill="#111" stroke="#111" stroke-width="0.22" textLength="10.52" lengthAdjust="spacingAndGlyphs">20</text>
<line x1="505.76" y1="493.20" x2="505.76" y2="496.00" stroke="#444" stroke-width="0.9"/>
<text x="505.76" y="504.90" font-size="9.2" text-anchor="middle" fill="#111" stroke="#111" stroke-width="0.22" textLength="10.24" lengthAdjust="spacingAndGlyphs">40</text>
<line x1="560.94" y1="493.20" x2="560.94" y2="496.00" stroke="#444" stroke-width="0.9"/>
<text x="560.94" y="504.90" font-size="9.2" text-anchor="middle" fill="#111" stroke="#111" stroke-width="0.22" textLength="10.52" lengthAdjust="spacingAndGlyphs">60</text>
<line x1="616.12" y1="493.20" x2="616.12" y2="496.00" stroke="#444" stroke-width="0.9"/>
<text x="616.12" y="504.90" font-size="9.2" text-anchor="middle" fill="#111" stroke="#111" stroke-width="0.22" textLength="10.44" lengthAdjust="spacingAndGlyphs">80</text>
<line x1="671.30" y1="493.20" x2="671.30" y2="496.00" stroke="#444" stroke-width="0.9"/>
<text x="671.30" y="504.90" font-size="9.2" text-anchor="middle" fill="#111" stroke="#111" stroke-width="0.22" textLength="15.56" lengthAdjust="spacingAndGlyphs">100</text>
<line x1="378.90" y1="489.41" x2="381.70" y2="489.41" stroke="#444" stroke-width="0.9"/>
<text x="376.10" y="492.70" font-size="9.2" text-anchor="end" fill="#111" stroke="#111" stroke-width="0.22" textLength="17.61" lengthAdjust="spacingAndGlyphs">0.70</text>
<line x1="378.90" y1="459.07" x2="381.70" y2="459.07" stroke="#444" stroke-width="0.9"/>
<text x="376.10" y="462.37" font-size="9.2" text-anchor="end" fill="#111" stroke="#111" stroke-width="0.22" textLength="17.64" lengthAdjust="spacingAndGlyphs">0.75</text>
<line x1="378.90" y1="428.74" x2="381.70" y2="428.74" stroke="#444" stroke-width="0.9"/>
<text x="376.10" y="432.03" font-size="9.2" text-anchor="end" fill="#111" stroke="#111" stroke-width="0.22" textLength="17.61" lengthAdjust="spacingAndGlyphs">0.80</text>
<line x1="378.90" y1="398.40" x2="381.70" y2="398.40" stroke="#444" stroke-width="0.9"/>
<text x="376.10" y="401.70" font-size="9.2" text-anchor="end" fill="#111" stroke="#111" stroke-width="0.22" textLength="17.64" lengthAdjust="spacingAndGlyphs">0.85</text>
<line x1="378.90" y1="368.07" x2="381.70" y2="368.07" stroke="#444" stroke-width="0.9"/>
<text x="376.10" y="371.36" font-size="9.2" text-anchor="end" fill="#111" stroke="#111" stroke-width="0.22" textLength="17.61" lengthAdjust="spacingAndGlyphs">0.90</text>
<line x1="378.90" y1="337.74" x2="381.70" y2="337.74" stroke="#444" stroke-width="0.9"/>
<text x="376.10" y="341.03" font-size="9.2" text-anchor="end" fill="#111" stroke="#111" stroke-width="0.22" textLength="17.64" lengthAdjust="spacingAndGlyphs">0.95</text>
<line x1="378.90" y1="307.40" x2="381.70" y2="307.40" stroke="#444" stroke-width="0.9"/>
<text x="376.10" y="310.69" font-size="9.2" text-anchor="end" fill="#111" stroke="#111" stroke-width="0.22" textLength="17.97" lengthAdjust="spacingAndGlyphs">1.00</text>
<text x="531.95" y="294.00" font-size="9.9" text-anchor="middle" fill="#111" stroke="#111" stroke-width="0.22" textLength="113.93" lengthAdjust="spacingAndGlyphs">Memory - Mackey-Glass</text>
<text x="531.95" y="516.20" font-size="9.0" text-anchor="middle" fill="#111" stroke="#111" stroke-width="0.22" textLength="41.41" lengthAdjust="spacingAndGlyphs">Timesteps</text>
<text x="353.40" y="395.80" font-size="9.0" text-anchor="middle" fill="#111" stroke="#111" stroke-width="0.22" textLength="37.02" lengthAdjust="spacingAndGlyphs" transform="rotate(-90 353.40 395.80)">Accuracy</text>
<text x="518.50" y="538.20" font-size="13.0" text-anchor="middle" fill="#000" font-weight="bold">(d)</text>
<g clip-path="url(#clipe)">
<path d="M43.28,599.86 L48.76,599.86 L53.14,597.02 L57.52,597.02 L61.90,598.11 L66.28,598.55 L72.85,598.11 L76.13,594.18 L79.42,595.49 L83.80,597.02 L88.18,595.49 L92.55,597.68 L96.93,593.74 L100.22,597.02 L105.69,595.93 L110.07,595.49 L114.45,595.93 L118.83,594.84 L123.21,595.49 L127.59,593.74 L131.97,594.84 L136.35,589.37 L140.73,597.02 L145.11,594.84 L149.49,593.74 L153.87,591.12 L158.25,587.19 L161.53,595.93 L165.91,587.19 L169.20,597.02 L173.58,595.93 L177.96,597.02 L182.34,595.49 L186.72,596.37 L189.23,598.76 L193.47,596.64 L197.70,595.58 L200.88,588.17 L204.05,597.70 L208.28,594.52 L211.46,597.70 L214.64,593.04 L218.87,597.70 L223.10,595.58 L227.34,598.12 L231.57,597.70 L236.86,593.89 L241.09,597.70 L245.33,596.64 L248.50,593.47 L251.04,587.54 L253.80,594.52 L258.03,599.39 L262.26,599.81 L266.50,600.24 L270.73,599.81 L274.96,600.24 L279.20,600.87 L284.49,594.52 L288.72,599.81 L292.96,600.24 L297.19,601.93 L301.42,600.87 L304.60,597.70 L308.83,601.93 L313.07,600.87 L317.30,601.51 L321.53,604.05 L321.53,612.51 L317.30,613.57 L313.07,612.51 L308.83,611.46 L304.60,618.86 L301.42,613.57 L297.19,611.46 L292.96,612.51 L288.72,611.46 L284.49,618.86 L279.20,610.40 L274.96,612.51 L270.73,609.34 L266.50,610.40 L262.26,611.46 L258.03,609.34 L253.80,608.28 L251.04,624.15 L248.50,610.40 L244.27,607.22 L240.04,608.28 L235.80,612.51 L231.57,609.34 L227.34,608.28 L223.10,617.80 L218.87,608.28 L214.64,613.57 L211.46,607.22 L208.28,612.51 L204.05,608.28 L200.88,623.10 L197.70,611.46 L193.47,608.28 L189.23,610.40 L186.72,609.48 L184.53,610.14 L180.15,611.23 L175.77,609.04 L171.39,612.32 L167.01,621.07 L162.63,612.32 L158.25,623.25 L153.87,612.32 L149.49,619.97 L145.11,615.60 L140.73,611.23 L136.35,613.42 L131.97,621.07 L127.59,614.51 L123.21,610.14 L118.83,611.23 L114.45,609.04 L110.07,611.23 L105.69,609.04 L101.31,610.14 L96.93,611.23 L92.55,609.04 L88.18,610.14 L83.80,606.86 L79.42,609.04 L76.13,605.77 L72.85,609.04 L68.47,611.23 L64.09,610.14 L59.71,607.95 L55.33,606.86 L50.95,609.04 L46.57,605.77 L43.28,600.30 Z" fill="#0000ff" fill-opacity="0.35" stroke="none"/>
<path d="M314.00,600.20 L316.00,597.60 L319.00,597.20 L321.00,598.50 L321.50,600.50 L320.00,602.80 L317.00,603.20 L315.00,602.00 Z" fill="#008000" fill-opacity="0.3" stroke="none"/>
<path d="M44.20,599.00 L46.50,604.00 L49.50,610.00 L52.50,616.00 L55.00,623.00 L57.00,630.00 L59.00,638.00 L61.00,648.00 L62.30,660.00 L63.30,680.00 L64.50,700.00 L65.50,720.00 L66.80,740.00 L68.50,755.00 L70.00,764.00 L73.00,767.00 L76.00,764.00 L77.50,760.00 L72.50,757.00 L71.00,745.00 L69.80,727.00 L68.70,708.00 L67.60,690.00 L66.50,672.00 L65.50,654.00 L64.50,641.00 L62.50,630.00 L60.00,622.00 L57.00,615.00 L53.00,608.00 L49.00,602.00 L46.00,599.50 Z" fill="#ff0000" fill-opacity="0.18" stroke="none"/>
<path d="M43.28,600.16 L46.57,601.69 L50.95,603.88 L55.33,603.22 L59.71,603.88 L64.09,604.53 L68.47,603.22 L72.85,601.69 L76.13,602.79 L79.42,603.88 L83.80,602.35 L88.18,602.79 L92.55,602.35 L96.93,603.22 L101.31,602.35 L105.69,602.79 L110.07,602.35 L114.45,602.79 L118.83,603.22 L123.21,602.79 L127.59,606.07 L131.97,603.22 L136.35,602.35 L140.73,604.53 L145.11,602.79 L149.49,603.88 L153.87,603.22 L158.25,604.97 L162.63,603.88 L167.01,603.22 L171.39,602.79 L175.77,603.22 L180.15,602.35 L184.53,603.88 L189.23,605.41 L193.47,603.29 L197.70,604.35 L201.93,606.46 L206.17,603.29 L210.40,603.92 L214.64,602.65 L218.87,603.29 L223.10,605.41 L227.34,602.65 L231.57,603.92 L235.80,603.29 L240.04,603.29 L244.27,602.23 L247.45,604.35 L250.62,606.46 L253.80,603.29 L258.03,603.92 L262.26,606.04 L266.50,605.41 L270.73,604.77 L274.96,605.41 L279.20,606.04 L283.43,606.46 L287.66,606.04 L291.90,607.52 L296.13,606.46 L300.36,607.52 L304.60,608.16 L308.83,606.89 L313.07,608.16 L317.30,609.00 L321.53,610.27" fill="none" stroke="#0000ff" stroke-width="1.4" stroke-linejoin="round" stroke-dasharray="4.9,1.75"/>
<path d="M43.28,599.86 L46.57,601.39 L50.95,603.58 L55.33,602.92 L59.71,603.58 L64.09,604.23 L68.47,602.92 L72.85,601.39 L76.13,602.49 L79.42,603.58 L83.80,602.05 L88.18,602.49 L92.55,602.05 L96.93,602.92 L101.31,602.05 L105.69,602.49 L110.07,602.05 L114.45,602.49 L118.83,602.92 L123.21,602.49 L127.59,605.77 L131.97,602.92 L136.35,602.05 L140.73,604.23 L145.11,602.49 L149.49,603.58 L153.87,602.92 L158.25,604.67 L162.63,603.58 L167.01,602.92 L171.39,602.49 L175.77,602.92 L180.15,602.05 L184.53,603.58 L189.23,605.11 L193.47,602.99 L197.70,604.05 L201.93,606.16 L206.17,602.99 L210.40,603.62 L214.64,602.35 L218.87,602.99 L223.10,605.11 L227.34,602.35 L231.57,603.62 L235.80,602.99 L240.04,602.99 L244.27,601.93 L247.45,604.05 L250.62,606.16 L253.80,602.99 L258.03,603.62 L262.26,605.74 L266.50,605.11 L270.73,604.47 L274.96,605.11 L279.20,605.74 L283.43,606.16 L287.66,605.74 L291.90,607.22 L296.13,606.16 L300.36,607.22 L304.60,607.86 L308.83,606.59 L313.07,607.86 L317.30,608.70 L321.53,609.97" fill="none" stroke="#0000ff" stroke-width="1.4" stroke-linejoin="round"/>
<path d="M44.20,599.80 L46.90,604.20 L50.40,610.00 L53.80,614.60 L57.30,621.50 L60.70,628.40 L63.10,640.00 L64.20,653.80 L65.40,672.20 L66.50,690.70 L67.70,709.10 L68.80,727.60 L70.00,743.70 L71.80,757.50 L76.90,760.60 L322.00,760.60" fill="none" stroke="#ff0000" stroke-width="1.4" stroke-linejoin="round"/>
<path d="M44.20,598.60 L60.00,598.70 L70.00,599.10 L75.80,599.70 L81.70,601.60 L87.50,604.50 L93.40,608.10 L99.20,612.50 L105.00,619.10 L109.40,624.20 L113.80,630.80 L118.20,635.90 L124.00,641.70 L129.90,648.30 L135.70,652.70 L143.00,657.80 L150.30,662.90 L157.60,668.70 L164.90,672.40 L170.00,674.60 L179.00,679.50 L190.30,683.40 L206.30,688.50 L222.40,693.00 L238.50,697.20 L254.50,701.10 L270.60,704.60 L286.60,707.80 L302.70,710.70 L320.30,713.30" fill="none" stroke="#ff0000" stroke-width="1.4" stroke-linejoin="round" stroke-dasharray="4.9,1.75"/>
<path d="M44.20,598.20 L200.00,598.20 L260.00,598.60 L300.00,599.30 L320.30,600.20" fill="none" stroke="#008000" stroke-width="1.4" stroke-linejoin="round" stroke-dasharray="4.9,1.75"/>
<path d="M44.20,598.20 L200.00,598.20 L260.00,598.60 L300.00,599.30 L320.30,600.20" fill="none" stroke="#008000" stroke-width="1.4" stroke-linejoin="round"/>
</g>
<rect x="30.40" y="577.50" width="304.90" height="197.70" fill="none" stroke="#6a6a6a" stroke-width="1.3"/>
<line x1="44.20" y1="775.20" x2="44.20" y2="778.00" stroke="#444" stroke-width="0.9"/>
<text x="44.20" y="786.90" font-size="9.2" text-anchor="middle" fill="#111" stroke="#111" stroke-width="0.22" textLength="5.60" lengthAdjust="spacingAndGlyphs">0</text>
<line x1="100.14" y1="775.20" x2="100.14" y2="778.00" stroke="#444" stroke-width="0.9"/>
<text x="100.14" y="786.90" font-size="9.2" text-anchor="middle" fill="#111" stroke="#111" stroke-width="0.22" textLength="10.52" lengthAdjust="spacingAndGlyphs">20</text>
<line x1="156.08" y1="775.20" x2="156.08" y2="778.00" stroke="#444" stroke-width="0.9"/>
<text x="156.08" y="786.90" font-size="9.2" text-anchor="middle" fill="#111" stroke="#111" stroke-width="0.22" textLength="10.24" lengthAdjust="spacingAndGlyphs">40</text>
<line x1="212.02" y1="775.20" x2="212.02" y2="778.00" stroke="#444" stroke-width="0.9"/>
<text x="212.02" y="786.90" font-size="9.2" text-anchor="middle" fill="#111" stroke="#111" stroke-width="0.22" textLength="10.52" lengthAdjust="spacingAndGlyphs">60</text>
<line x1="267.96" y1="775.20" x2="267.96" y2="778.00" stroke="#444" stroke-width="0.9"/>
<text x="267.96" y="786.90" font-size="9.2" text-anchor="middle" fill="#111" stroke="#111" stroke-width="0.22" textLength="10.44" lengthAdjust="spacingAndGlyphs">80</text>
<line x1="323.90" y1="775.20" x2="323.90" y2="778.00" stroke="#444" stroke-width="0.9"/>
<text x="323.90" y="786.90" font-size="9.2" text-anchor="middle" fill="#111" stroke="#111" stroke-width="0.22" textLength="15.56" lengthAdjust="spacingAndGlyphs">100</text>
<line x1="27.60" y1="760.60" x2="30.40" y2="760.60" stroke="#444" stroke-width="0.9"/>
<text x="24.30" y="763.89" font-size="9.2" text-anchor="end" fill="#111" stroke="#111" stroke-width="0.22" textLength="12.78" lengthAdjust="spacingAndGlyphs">0.0</text>
<line x1="27.60" y1="728.10" x2="30.40" y2="728.10" stroke="#444" stroke-width="0.9"/>
<text x="24.30" y="731.39" font-size="9.2" text-anchor="end" fill="#111" stroke="#111" stroke-width="0.22" textLength="12.87" lengthAdjust="spacingAndGlyphs">0.2</text>
<line x1="27.60" y1="695.60" x2="30.40" y2="695.60" stroke="#444" stroke-width="0.9"/>
<text x="24.30" y="698.89" font-size="9.2" text-anchor="end" fill="#111" stroke="#111" stroke-width="0.22" textLength="12.68" lengthAdjust="spacingAndGlyphs">0.4</text>
<line x1="27.60" y1="663.10" x2="30.40" y2="663.10" stroke="#444" stroke-width="0.9"/>
<text x="24.30" y="666.39" font-size="9.2" text-anchor="end" fill="#111" stroke="#111" stroke-width="0.22" textLength="12.83" lengthAdjust="spacingAndGlyphs">0.6</text>
<line x1="27.60" y1="630.60" x2="30.40" y2="630.60" stroke="#444" stroke-width="0.9"/>
<text x="24.30" y="633.89" font-size="9.2" text-anchor="end" fill="#111" stroke="#111" stroke-width="0.22" textLength="12.83" lengthAdjust="spacingAndGlyphs">0.8</text>
<line x1="27.60" y1="598.10" x2="30.40" y2="598.10" stroke="#444" stroke-width="0.9"/>
<text x="24.30" y="601.39" font-size="9.2" text-anchor="end" fill="#111" stroke="#111" stroke-width="0.22" textLength="13.15" lengthAdjust="spacingAndGlyphs">1.0</text>
<text x="182.85" y="572.50" font-size="9.9" text-anchor="middle" fill="#111" stroke="#111" stroke-width="0.22" textLength="118.56" lengthAdjust="spacingAndGlyphs">Memory - Santa Fe Laser</text>
<text x="182.85" y="798.20" font-size="9.0" text-anchor="middle" fill="#111" stroke="#111" stroke-width="0.22" textLength="41.41" lengthAdjust="spacingAndGlyphs">Timesteps</text>
<text x="7.30" y="676.35" font-size="9.0" text-anchor="middle" fill="#111" stroke="#111" stroke-width="0.22" textLength="37.02" lengthAdjust="spacingAndGlyphs" transform="rotate(-90 7.30 676.35)">Accuracy</text>
<text x="171.30" y="820.70" font-size="13.0" text-anchor="middle" fill="#000" font-weight="bold">(e)</text>
<rect x="397.5" y="585.5" width="237.6" height="200.8" rx="3.5" ry="3.5" fill="#fff" stroke="#cfcfcf" stroke-width="1"/>
<line x1="404.6" y1="602.40" x2="451.3" y2="602.40" stroke="#0000ff" stroke-width="2.1"/>
<text x="467.20" y="610.40" font-size="22.6" text-anchor="start" fill="#000" textLength="149.19" lengthAdjust="spacingAndGlyphs">spherical test</text>
<line x1="406.0" y1="635.08" x2="450.8" y2="635.08" stroke="#0000ff" stroke-width="2.1" stroke-dasharray="8.5,3.6"/>
<text x="467.20" y="643.08" font-size="22.6" text-anchor="start" fill="#000" textLength="159.55" lengthAdjust="spacingAndGlyphs">spherical train</text>
<line x1="404.6" y1="667.76" x2="451.3" y2="667.76" stroke="#ff0000" stroke-width="2.1"/>
<text x="467.20" y="675.76" font-size="22.6" text-anchor="start" fill="#000" textLength="99.40" lengthAdjust="spacingAndGlyphs">tanh test</text>
<line x1="406.0" y1="700.44" x2="450.8" y2="700.44" stroke="#ff0000" stroke-width="2.1" stroke-dasharray="8.5,3.6"/>
<text x="467.20" y="708.44" font-size="22.6" text-anchor="start" fill="#000" textLength="109.80" lengthAdjust="spacingAndGlyphs">tanh train</text>
<line x1="404.6" y1="733.12" x2="451.3" y2="733.12" stroke="#008000" stroke-width="2.1"/>
<text x="467.20" y="741.12" font-size="22.6" text-anchor="start" fill="#000" textLength="112.93" lengthAdjust="spacingAndGlyphs">linear test</text>
<line x1="406.0" y1="765.80" x2="450.8" y2="765.80" stroke="#008000" stroke-width="2.1" stroke-dasharray="8.5,3.6"/>
<text x="467.20" y="773.80" font-size="22.6" text-anchor="start" fill="#000" textLength="123.36" lengthAdjust="spacingAndGlyphs">linear train</text>
<text x="518.20" y="820.70" font-size="13.0" text-anchor="middle" fill="#000" font-weight="bold">(f)</text>
</svg>
</body></html>
